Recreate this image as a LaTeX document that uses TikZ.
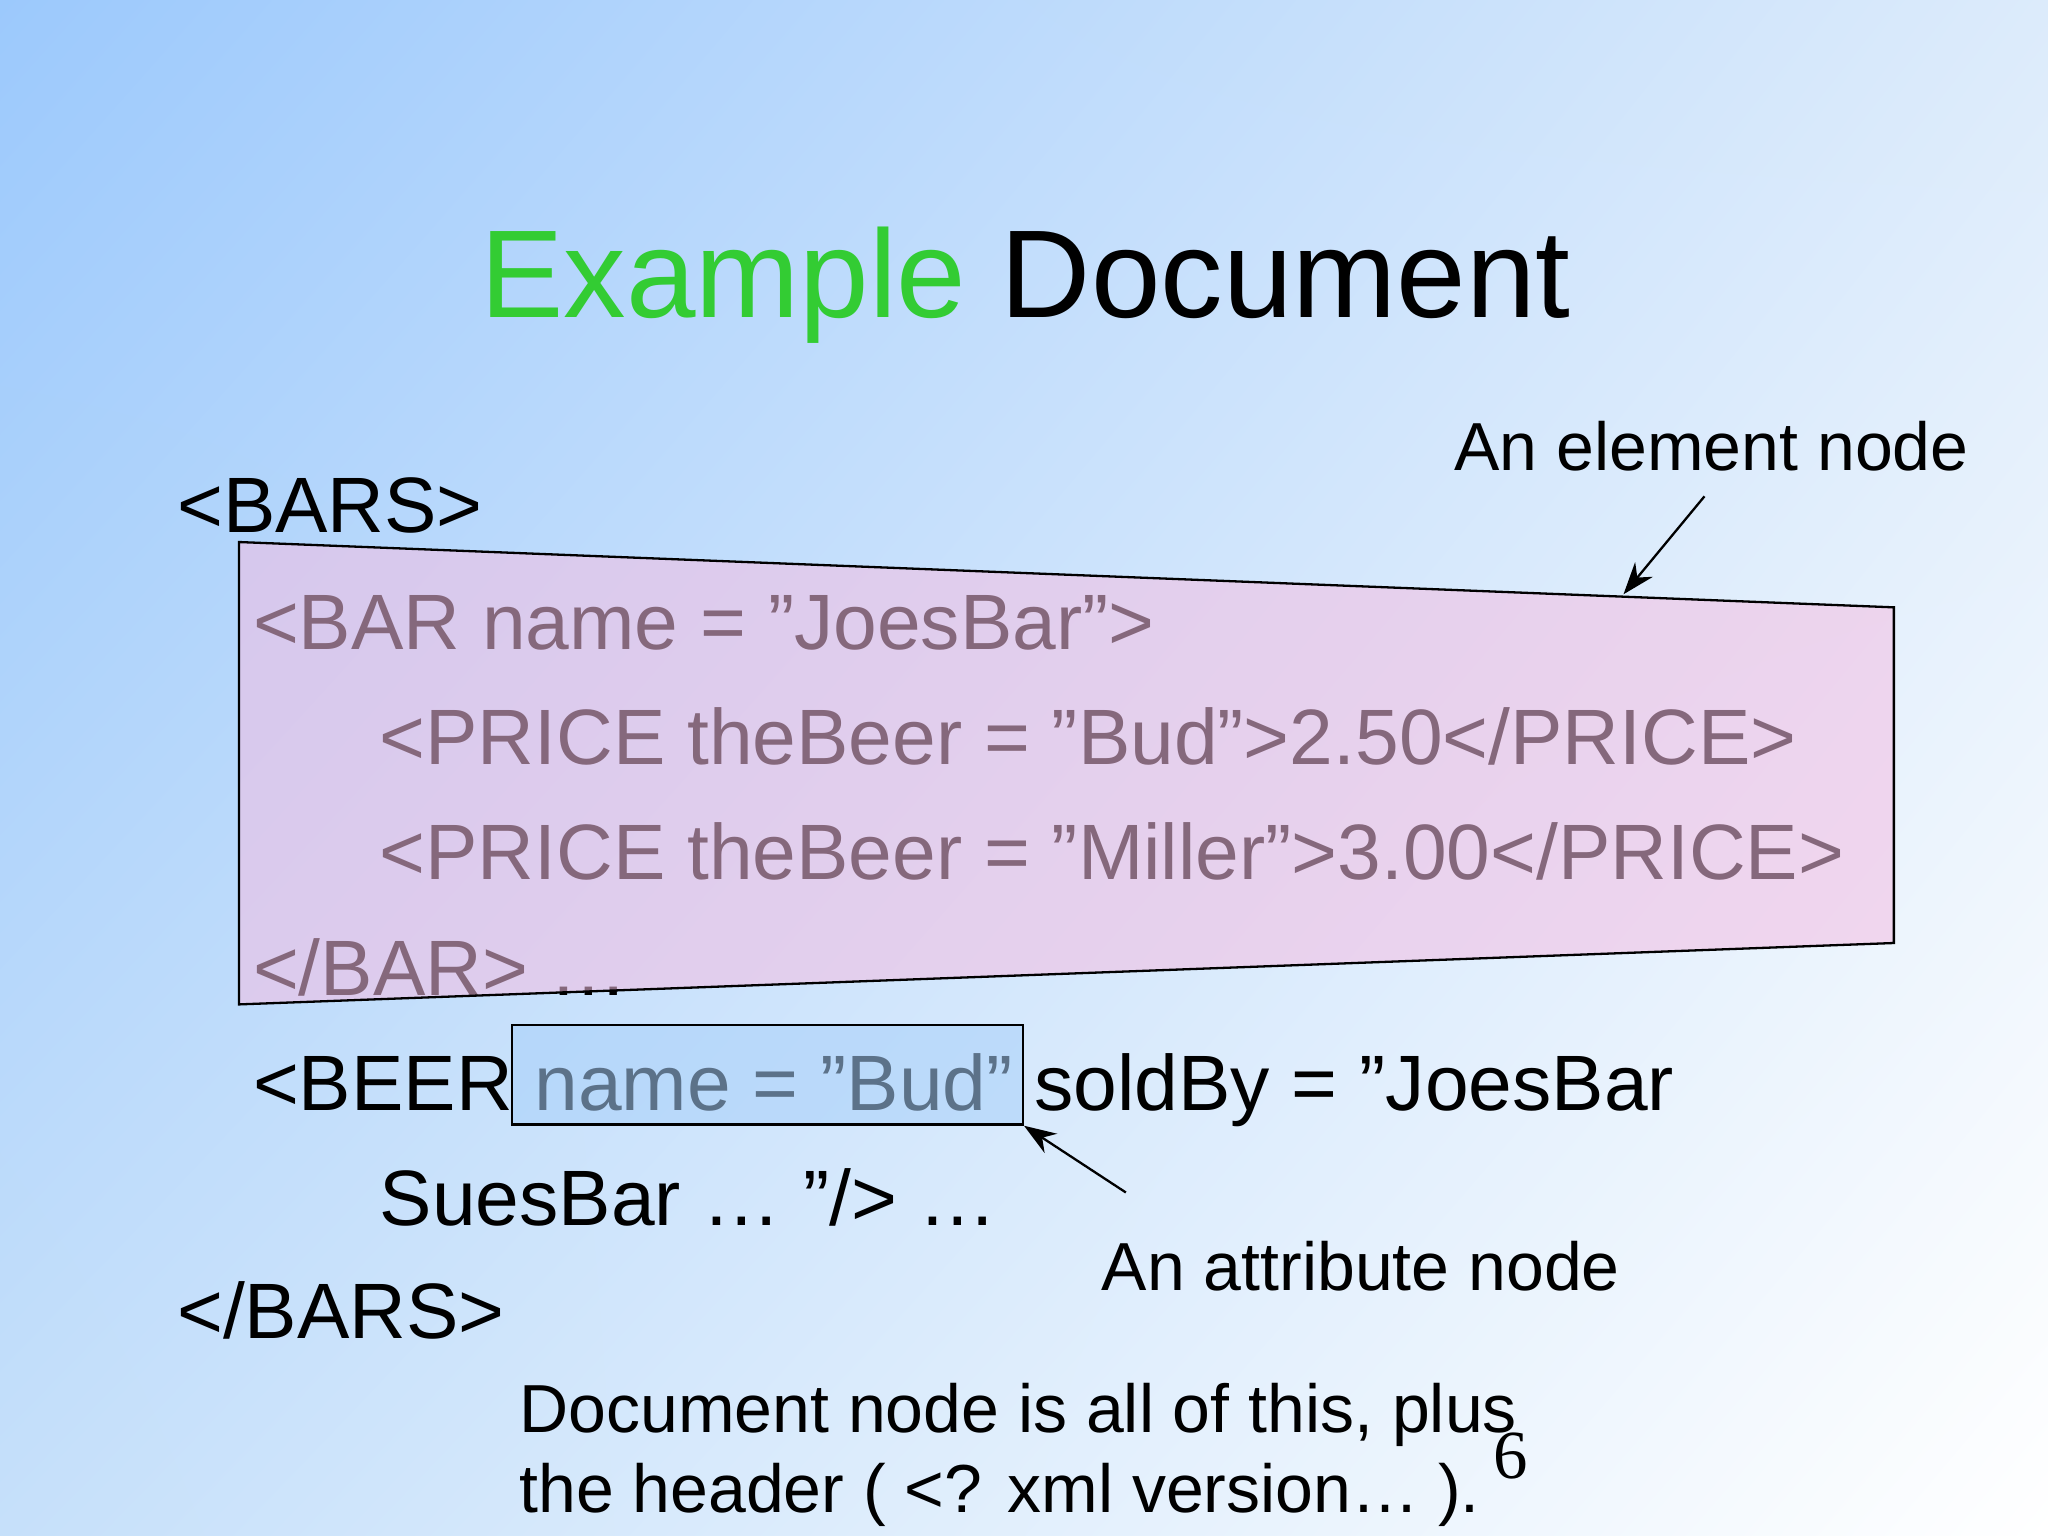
\documentclass[tikz,border=0pt]{standalone}
\usepackage{fontspec}
\usetikzlibrary{shadings,arrows.meta}
\setmainfont{Liberation Sans}
\newfontfamily\serifsix{Liberation Serif}
\definecolor{bgA}{HTML}{9CC9FC}
\definecolor{bgB}{HTML}{DCEBFB}
\definecolor{bgC}{HTML}{C6E0FA}
\definecolor{pinkfill}{HTML}{F4BEE2}
\definecolor{bluefill}{HTML}{A8D0FA}
\definecolor{titlegreen}{HTML}{33CC33}
\begin{document}
\begin{tikzpicture}[x=0.01cm,y=-0.01cm,
  code/.style={anchor=base west,inner sep=0pt,font=\fontsize{17.1}{20}\selectfont},
  lab/.style={anchor=base west,inner sep=0pt,font=\fontsize{14.8}{18}\selectfont},
  arr/.style={-{Stealth[length=7pt,width=5pt]},line width=0.5pt}]
\useasboundingbox (0,0) rectangle (1568,1176);
\shade[upper left=bgA,upper right=bgB,lower left=bgC,lower right=white] (0,0) rectangle (1568,1176);
\node[anchor=base,inner sep=0pt,font=\fontsize{27.2}{32}\selectfont] (title) at (785,243) {\textcolor{titlegreen}{Example} Document};
\node[code] (bars) at (135,408) {<BARS>};
\node[code] (bar) at (193,497) {<BAR name = ”JoesBar”>};
\node[code] (p1) at (290,585) {<PRICE theBeer = ”Bud”>2.50</PRICE>};
\node[code] (p2) at (290,673) {<PRICE theBeer = ”Miller”>3.00</PRICE>};
\node[code] (ebar) at (193,762) {</BAR> …};
\node[code] (beer) at (193,850) {<BEER name = ”Bud” soldBy = ”JoesBar};
\node[code] (sues) at (290,938) {SuesBar … ”/> …};
\node[code] (ebars) at (135,1025) {</BARS>};
\fill[pinkfill,fill opacity=0.55] (183,415) -- (1450,465) -- (1450,722) -- (183,769) -- cycle;
\draw[line width=0.5pt] (183,415) -- (1450,465) -- (1450,722) -- (183,769) -- cycle;
\node[draw,line width=0.5pt,fill=bluefill,fill opacity=0.55,minimum width=3.91cm,minimum height=0.76cm,inner sep=0pt] (attr) at (587.5,823) {};
\node[lab] (el) at (1113,360) {An element node};
\node[lab] (at) at (843,988) {An attribute node};
\coordinate (elstart) at (1305,380);
\coordinate (elend) at (1243,455);
\coordinate (atstart) at (862,913);
\draw[arr] (elstart) -- (elend);
\draw[arr] (atstart) -- (attr.south east);
\node[lab] (doc1) at (397,1097) {Document node is all of this, plus};
\node[lab] (doc2) at (397,1158) {the header ( <? xml version… ).};
\node[anchor=base west,inner sep=0pt,font=\serifsix\fontsize{15}{18}\selectfont] (six) at (1143,1132) {6};
\end{tikzpicture}
\end{document}
